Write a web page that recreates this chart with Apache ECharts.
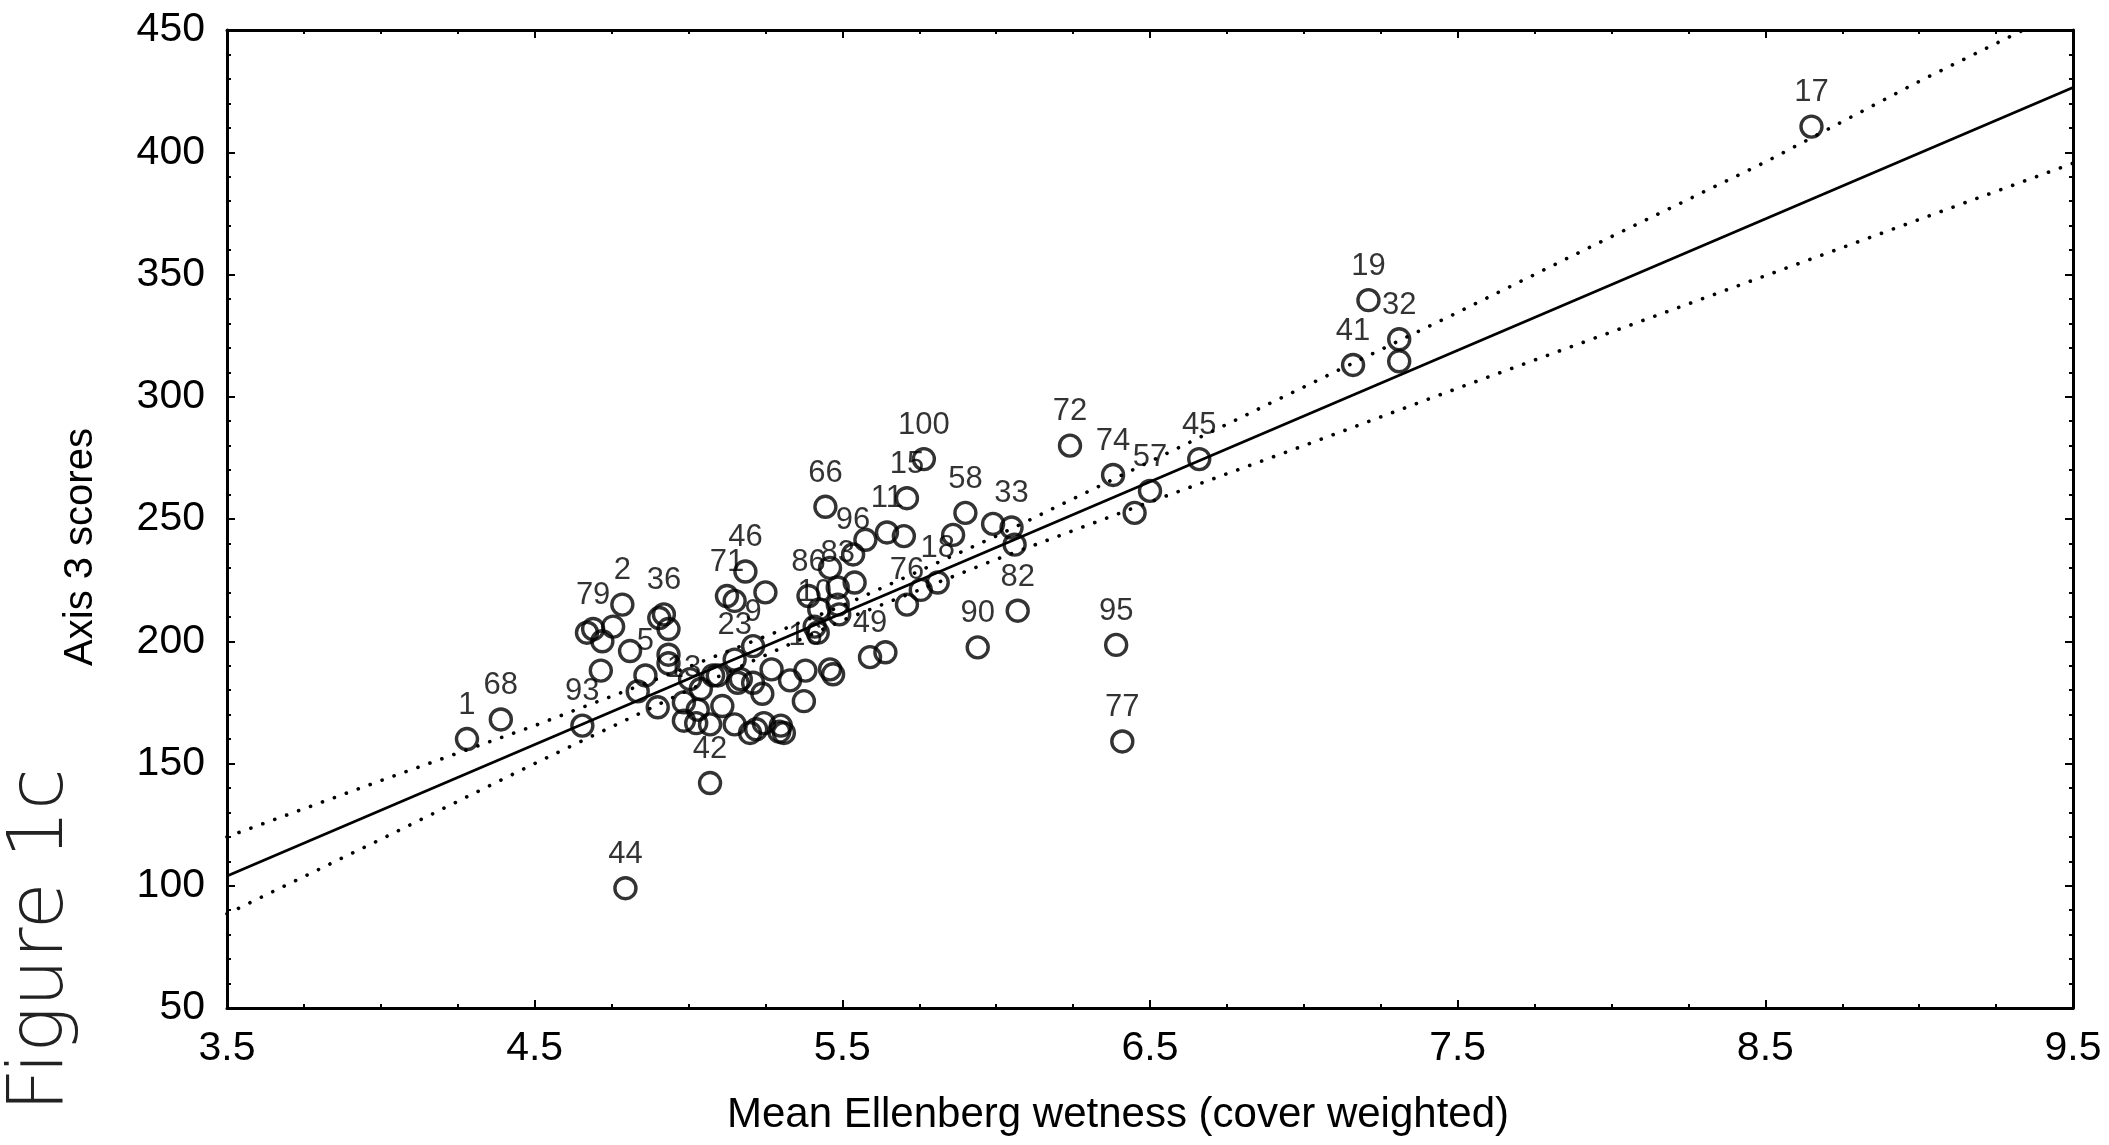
<!DOCTYPE html>
<html>
<head>
<meta charset="utf-8">
<title>Axis 3 scores vs mean Ellenberg wetness</title>
<script src="https://cdn.jsdelivr.net/npm/echarts@6/dist/echarts.min.js"></script>
<style>
  html, body { margin: 0; padding: 0; background: #fff; }
  #chart { width: 2109px; height: 1145px; }
</style>
</head>
<body>
<div id="chart"></div>
<script>
// site values (x = mean Ellenberg wetness, y = axis 3 score)
const siteX = [
  8.65, 7.21, 7.31, 7.31, 7.16, 6.66, 6.50, 6.45, 6.38, 6.24,
  6.39, 6.41, 6.07, 5.94, 6.05, 5.99, 6.06, 5.90, 5.86, 5.81,
  5.755, 5.71, 5.765, 5.71, 5.645, 5.70, 5.445, 5.575, 5.535, 5.59,
  5.64, 5.39, 5.485, 5.54, 5.46, 5.425, 5.485, 5.49, 5.41, 5.42,
  5.185, 5.125, 5.15, 5.25, 5.21, 5.15, 5.08, 5.04, 5.16, 5.21,
  5.27, 5.24, 5.33, 5.38, 5.46, 5.47, 5.375, 5.11, 5.03, 5.07,
  5.15, 5.22, 5.245, 5.295, 5.30, 5.07, 4.795, 4.28, 4.39, 4.655,
  4.69, 4.67, 4.755, 4.72, 4.785, 4.715, 4.81, 4.92, 4.905, 4.935,
  4.935, 4.86, 4.935, 4.835, 4.90, 4.985, 5.005, 5.095, 5.17, 5.31,
  5.20, 4.985, 5.025
];
const siteY = [
  410.5, 339.5, 323.5, 314.5, 313, 274.5, 261.5, 252.5, 268, 280,
  198.5, 159, 212.5, 197.5, 246.5, 248, 239.5, 252.5, 243.5, 224,
  221, 215, 274.5, 258.5, 244.5, 243, 255, 241.5, 235.5, 193.5,
  195.5, 218.5, 222, 224, 230, 213, 215, 211, 206, 203.5,
  228.5, 218.5, 216.5, 220, 198, 192.5, 186, 180.5, 183, 183,
  188.5, 178.5, 184, 188, 188.5, 186.5, 175.5, 173.5, 172, 166,
  166, 164, 166.5, 163, 165.5, 142, 99, 160, 168, 165.5,
  205, 203.5, 206, 200, 215, 188, 196, 211, 209.5, 205,
  194.5, 186, 191, 179.5, 173, 175, 184.5, 186, 184.5, 162.5,
  162.5, 167.5, 166.5
];
const siteLabel = [
  '17', '19', '32', '', '41', '45', '57', '', '74', '72',
  '95', '77', '82', '90', '33', '', '', '58', '', '18',
  '', '76', '100', '15', '11', '', '66', '', '96', '49',
  '', '86', '83', '', '', '', '', '', '10', '',
  '46', '71', '', '', '9', '23', '', '', '', '',
  '', '', '', '16', '', '', '', '', '', '',
  '', '', '', '', '', '42', '44', '1', '68', '93',
  '79', '', '', '', '2', '', '', '36', '', '',
  '', '5', '', '', '', '13', '', '', '', '',
  '', '', ''
];

// fitted regression line and its dotted confidence band
const fitX = [3.5, 9.5];
const fitY = [104, 426.5];
const bandX = [3.5, 4, 4.5, 5, 5.5, 6, 6.5, 7, 7.5, 8, 8.5, 9, 9.5];
const bandUpper = [120, 143, 165.5, 189.5, 214.5, 243, 273.5, 304, 334.5, 365.5, 396, 429, 460];
const bandLower = [88.5, 119, 150, 180, 208.5, 233.5, 257, 280, 303.5, 326.5, 349.5, 372.5, 395.5];

const FONT = '"Liberation Sans", Arial, Helvetica, sans-serif';

const chart = echarts.init(document.getElementById('chart'), null, { renderer: 'canvas' });

const pairs = (xs, ys) => xs.map((x, i) => [x, ys[i]]);

const frameAxis = {
  axisLine: { show: true, onZero: false, lineStyle: { color: '#000', width: 3 } },
  axisTick: { show: true, inside: true, length: 8, lineStyle: { color: '#000', width: 2 } },
  minorTick: { show: true, length: 4, lineStyle: { color: '#000', width: 2 } },
  splitLine: { show: false },
  minorSplitLine: { show: false }
};

const xBase = { type: 'value', min: 3.5, max: 9.5, interval: 1 };
const yBase = { type: 'value', min: 50, max: 450, interval: 50 };

const dotted = { color: '#000', width: 3.6, type: [0.1, 12.6], cap: 'round' };

const option = {
  animation: false,
  backgroundColor: '#fff',
  grid: { left: 227, right: 36, top: 30, bottom: 137, containLabel: false },
  xAxis: [
    Object.assign({}, xBase, frameAxis, {
      position: 'bottom',
      minorTick: Object.assign({}, frameAxis.minorTick, { splitNumber: 4 }),
      axisLabel: {
        color: '#000', fontSize: 41, fontFamily: FONT, margin: 20,
        formatter: v => v.toFixed(1)
      },
      name: 'Mean Ellenberg wetness (cover weighted)',
      nameLocation: 'middle',
      nameGap: 86,
      nameTextStyle: { color: '#000', fontSize: 42, fontFamily: FONT, padding: [0, 64, 0, 0] }
    }),
    Object.assign({}, xBase, frameAxis, {
      position: 'top',
      minorTick: Object.assign({}, frameAxis.minorTick, { splitNumber: 4 }),
      axisLabel: { show: false }
    })
  ],
  yAxis: [
    Object.assign({}, yBase, frameAxis, {
      position: 'left',
      minorTick: Object.assign({}, frameAxis.minorTick, { splitNumber: 5 }),
      axisLabel: { color: '#000', fontSize: 41, fontFamily: FONT, margin: 22 },
      name: 'Axis 3 scores',
      nameLocation: 'middle',
      nameGap: 126,
      nameTextStyle: { color: '#000', fontSize: 40, fontFamily: FONT, padding: [0, 56, 0, 0] }
    }),
    Object.assign({}, yBase, frameAxis, {
      position: 'right',
      minorTick: Object.assign({}, frameAxis.minorTick, { splitNumber: 5 }),
      axisLabel: { show: false }
    })
  ],
  graphic: [
    {
      type: 'text',
      x: 42,
      y: 940,
      rotation: Math.PI / 2,
      style: {
        text: 'Figure 1c',
        fontSize: 76,
        fontFamily: '"DejaVu Sans", sans-serif',
        fontWeight: 200,
        fill: '#222',
        align: 'center',
        verticalAlign: 'middle'
      }
    }
  ],
  series: [
    {
      type: 'line',
      data: pairs(bandX, bandUpper),
      showSymbol: false,
      symbol: 'none',
      clip: true,
      silent: true,
      lineStyle: dotted
    },
    {
      type: 'line',
      data: pairs(bandX, bandLower),
      showSymbol: false,
      symbol: 'none',
      clip: true,
      silent: true,
      lineStyle: dotted
    },
    {
      type: 'line',
      data: pairs(fitX, fitY),
      showSymbol: false,
      symbol: 'none',
      clip: true,
      silent: true,
      lineStyle: { color: '#000', width: 2.8, type: 'solid' }
    },
    {
      type: 'scatter',
      symbol: 'circle',
      symbolSize: 21,
      silent: true,
      itemStyle: { color: 'rgba(0,0,0,0)', borderColor: '#000', borderWidth: 3.4 },
      label: {
        show: true,
        position: 'top',
        distance: 6,
        formatter: '{b}',
        color: '#000',
        fontSize: 31,
        fontFamily: FONT
      },
      data: siteX.map((x, i) => ({
        name: siteLabel[i],
        value: [x, siteY[i]],
        label: { show: siteLabel[i] !== '' }
      }))
    }
  ]
};

chart.setOption(option);
</script>
</body>
</html>
